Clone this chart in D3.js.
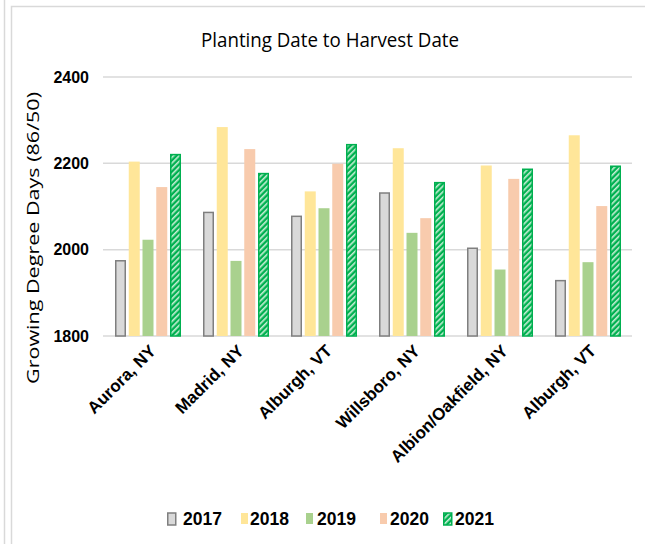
<!DOCTYPE html>
<html>
<head>
<meta charset="utf-8">
<script src="https://cdn.jsdelivr.net/npm/d3@7"></script>
<style>
  body { margin: 0; background: #fff; }
  svg { display: block; }
  .lab { font-family: "Liberation Sans", Arial, sans-serif; font-weight: bold; fill: #000; }
</style>
</head>
<body>
<svg id="chart" width="645" height="544"></svg>
<script>
// data
var sites = ['Aurora, NY', 'Madrid, NY', 'Alburgh, VT', 'Willsboro, NY', 'Albion/Oakfield, NY', 'Alburgh, VT'];
var years = ['2017', '2018', '2019', '2020', '2021'];
var gdd2017 = [1976, 2088, 2079, 2133, 2005, 1930];
var gdd2018 = [2204, 2284, 2135, 2235, 2195, 2265];
var gdd2019 = [2023, 1974, 2096, 2039, 1954, 1971];
var gdd2020 = [2145, 2233, 2199, 2073, 2164, 2101];
var gdd2021 = [2222, 2178, 2245, 2157, 2188, 2195];
var yTicks = [1800, 2000, 2200, 2400];

var series = [gdd2017, gdd2018, gdd2019, gdd2020, gdd2021];
var fills = ['#d9d9d9', '#ffe699', '#a9d18e', '#f8cbad', 'url(#hatch)'];
var strokes = ['#7f7f7f', 'none', 'none', 'none', '#00b050'];

var svg = d3.select('#chart');

// outer frame lines like the screenshot
svg.append('line').attr('x1', 4.5).attr('x2', 4.5).attr('y1', 0).attr('y2', 544)
  .attr('stroke', '#d9d9d9').attr('stroke-width', 1.5);
svg.append('path').attr('d', 'M11.5,544V6.5H645')
  .attr('fill', 'none').attr('stroke', '#d9d9d9').attr('stroke-width', 1.5);

var defs = svg.append('defs');
var pat = defs.append('pattern').attr('id', 'hatch').attr('patternUnits', 'userSpaceOnUse')
  .attr('width', 4).attr('height', 4).attr('patternTransform', 'rotate(45)');
pat.append('rect').attr('width', 4).attr('height', 4).attr('fill', '#00b050');
pat.append('rect').attr('width', 1.6).attr('height', 4).attr('fill', '#c6efd5');

var plotL = 104, plotR = 632, plotT = 77, plotB = 336;

var x = d3.scaleBand().domain(d3.range(sites.length)).range([plotL, plotR]);
var xIn = d3.scaleBand().domain(years).range([0, 66]).paddingInner(0.2);
var y = d3.scaleLinear().domain([1800, 2400]).range([plotB, plotT]);

// gridlines
svg.append('g').selectAll('line').data(yTicks).join('line')
  .attr('x1', 103).attr('x2', plotR)
  .attr('y1', d => y(d)).attr('y2', d => y(d))
  .attr('stroke', '#d9d9d9').attr('stroke-width', 1.5);

// y tick labels
svg.append('g').selectAll('text').data(yTicks).join('text')
  .attr('class', 'lab')
  .attr('x', 89).attr('y', d => y(d)).attr('dy', '0.36em')
  .attr('text-anchor', 'end').attr('font-size', 16)
  .text(d => d);

// bars
years.forEach(function(yr, k) {
  var sw = strokes[k] != 'none' ? 1.5 : 0;
  svg.append('g').selectAll('rect').data(series[k]).join('rect')
    .attr('x', (d, i) => x(i) + x.bandwidth() / 2 - 33 + xIn(yr) + sw / 2)
    .attr('y', d => y(d) + sw / 2)
    .attr('width', xIn.bandwidth() - sw)
    .attr('height', d => y(1800) - y(d) - sw / 2)
    .attr('fill', fills[k])
    .attr('stroke', strokes[k]).attr('stroke-width', sw);
});

// x labels
svg.append('g').selectAll('text').data(sites).join('text')
  .attr('class', 'lab')
  .attr('transform', (d, i) => 'translate(' + (x(i) + x.bandwidth() / 2 + 9) + ',352) rotate(-45)')
  .attr('text-anchor', 'end').attr('font-size', 17)
  .text(d => d);

// title
svg.append('text')
  .attr('x', 330).attr('y', 47).attr('text-anchor', 'middle')
  .attr('font-family', '"Open Sans", sans-serif').attr('font-size', 20)
  .attr('textLength', 258).attr('lengthAdjust', 'spacingAndGlyphs')
  .attr('fill', '#000').text('Planting Date to Harvest Date');

// y axis title
svg.append('text')
  .attr('transform', 'translate(39,238) rotate(-90)')
  .attr('text-anchor', 'middle')
  .attr('font-family', '"Open Sans", sans-serif').attr('font-size', 17)
  .attr('textLength', 292).attr('lengthAdjust', 'spacingAndGlyphs')
  .attr('fill', '#000').text('Growing Degree Days (86/50)');

// legend
var legX = [167, 241, 306, 380, 443];
var legTextX = [183, 250, 317, 390, 455];
var leg = svg.append('g').selectAll('g').data(years).join('g');
leg.append('rect')
  .attr('x', (d, i) => legX[i] + (strokes[i] != 'none' ? 0.75 : 0)).attr('y', 513)
  .attr('width', (d, i) => strokes[i] != 'none' ? 8 : 7)
  .attr('height', (d, i) => strokes[i] != 'none' ? 12 : 11)
  .attr('fill', (d, i) => fills[i])
  .attr('stroke', (d, i) => strokes[i]).attr('stroke-width', 1.5);
leg.append('text')
  .attr('class', 'lab')
  .attr('x', (d, i) => legTextX[i]).attr('y', 519).attr('dy', '0.36em')
  .attr('font-size', 18)
  .attr('textLength', 39).attr('lengthAdjust', 'spacingAndGlyphs')
  .text(d => d);
</script>
</body>
</html>
